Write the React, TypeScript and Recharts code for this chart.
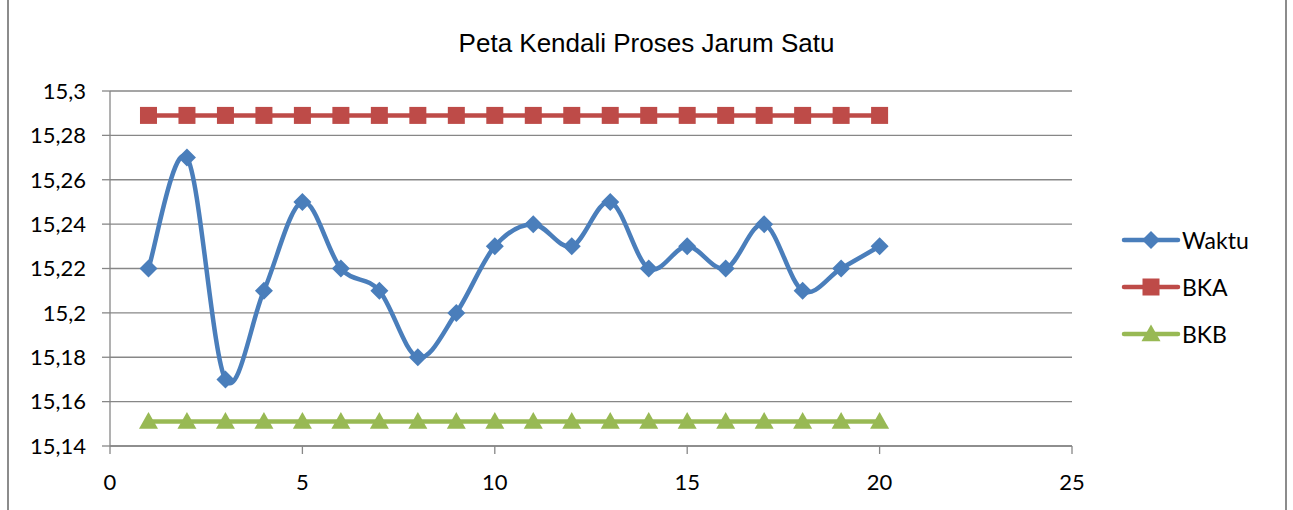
import { LineChart, Line, XAxis, YAxis, CartesianGrid, Legend } from "recharts";

const titleText = "Peta Kendali Proses Jarum Satu";
const sampleNo = [1, 2, 3, 4, 5, 6, 7, 8, 9, 10, 11, 12, 13, 14, 15, 16, 17, 18, 19, 20];
const waktu = [15.22, 15.27, 15.17, 15.21, 15.25, 15.22, 15.21, 15.18, 15.2, 15.23, 15.24, 15.23, 15.25, 15.22, 15.23, 15.22, 15.24, 15.21, 15.22, 15.23];
const bka = 15.289;
const bkb = 15.151;
const xTicks = [0, 5, 10, 15, 20, 25];
const yTicks = [15.14, 15.16, 15.18, 15.2, 15.22, 15.24, 15.26, 15.28, 15.3];

const data = sampleNo.map((n, i) => ({ n, Waktu: waktu[i], BKA: bka, BKB: bkb }));

const BLUE = "#4a7ebb";
const RED = "#be4b48";
const GREEN = "#98b954";
const FONT = "Lato, 'Open Sans', sans-serif";

// smoothed line like the spreadsheet one (catmull-rom style bezier)
function smoothCurve(ctx: any) {
  let pts: [number, number][] = [];
  return {
    areaStart() {},
    areaEnd() {},
    lineStart() { pts = []; },
    point(x: number, y: number) { pts.push([x, y]); },
    lineEnd() {
      if (!pts.length) return;
      ctx.moveTo(pts[0][0], pts[0][1]);
      for (let i = 0; i < pts.length - 1; i++) {
        const p0 = pts[i - 1] || pts[i];
        const p1 = pts[i];
        const p2 = pts[i + 1];
        const p3 = pts[i + 2] || p2;
        const c1x = p1[0] + (p2[0] - p0[0]) / 6;
        const c1y = p1[1] + (p2[1] - p0[1]) / 6;
        const c2x = p2[0] - (p3[0] - p1[0]) / 6;
        const c2y = p2[1] - (p3[1] - p1[1]) / 6;
        ctx.bezierCurveTo(c1x, c1y, c2x, c2y, p2[0], p2[1]);
      }
    },
  };
}

const fmt = (v: number) => String(Number(v.toFixed(2))).replace(".", ",");

// r from recharts is ignored, marker size is fixed per shape
const Diamond = (p: any) => {
  const { cx, cy, fill } = p;
  const s = 9;
  if (cx == null || cy == null) return <g />;
  return <path d={`M${cx},${cy - s}L${cx + s},${cy}L${cx},${cy + s}L${cx - s},${cy}Z`} fill={fill} />;
};
const Square = (p: any) => {
  const { cx, cy, fill } = p;
  const s = 8.5;
  if (cx == null || cy == null) return <g />;
  return <rect x={cx - s} y={cy - s} width={s * 2} height={s * 2} fill={fill} />;
};
const Triangle = (p: any) => {
  const { cx, cy, fill } = p;
  const s = 9.5;
  if (cx == null || cy == null) return <g />;
  return <path d={`M${cx},${cy - s}L${cx + s},${cy + s * 0.75}L${cx - s},${cy + s * 0.75}Z`} fill={fill} />;
};

const legendItems = [
  { name: "Waktu", color: BLUE, Mark: Diamond },
  { name: "BKA", color: RED, Mark: Square },
  { name: "BKB", color: GREEN, Mark: Triangle },
];

const LegendBox = () => (
  <div>
    {legendItems.map((it) => (
      <div key={it.name} style={{ display: "flex", alignItems: "center", height: 47 }}>
        <svg width={60} height={26}>
          <line x1={3} y1={13} x2={57} y2={13} stroke={it.color} strokeWidth={4.5} strokeLinecap="round" />
          <it.Mark cx={30} cy={13} fill={it.color} />
        </svg>
        <span style={{ fontFamily: FONT, fontSize: 23, color: "#000", marginLeft: 1 }}>{it.name}</span>
      </div>
    ))}
  </div>
);

export default function App() {
  return (
    <div style={{ position: "absolute", left: 0, top: 0, width: 1293, height: 510, background: "#fff" }}>
      <div style={{ position: "absolute", left: 7, top: 0, width: 1280, height: 510, borderLeft: "2px solid #8c8c8c", borderRight: "2px solid #8c8c8c", boxSizing: "border-box" }} />
      <div style={{ position: "absolute", left: 0, top: 28, width: 1293, textAlign: "center", fontFamily: "'Liberation Sans', Arial, sans-serif", fontSize: 26, color: "#000" }}>
        {titleText}
      </div>
      <div style={{ position: "absolute", left: 0, top: 0 }}>
        <LineChart width={1293} height={510} data={data} margin={{ top: 91, right: 221, left: 10, bottom: 0 }}>
          <CartesianGrid vertical={false} stroke="#878787" strokeWidth={1.3} />
          <XAxis
            dataKey="n"
            type="number"
            domain={[0, 25]}
            ticks={xTicks}
            interval={0}
            height={64}
            stroke="#878787"
            strokeWidth={1.3}
            tickSize={8}
            tickMargin={20}
            tick={{ fill: "#000", fontSize: 22, fontFamily: FONT }}
          />
          <YAxis
            type="number"
            domain={[15.14, 15.3]}
            ticks={yTicks}
            interval={0}
            width={100}
            stroke="#878787"
            strokeWidth={1.3}
            tickSize={8}
            tickMargin={16}
            tickFormatter={fmt}
            allowDataOverflow
            tick={{ fill: "#000", fontSize: 22, fontFamily: FONT }}
          />
          <Line dataKey="BKA" type="linear" stroke={RED} strokeWidth={4.5} dot={<Square fill={RED} />} isAnimationActive={false} />
          <Line dataKey="BKB" type="linear" stroke={GREEN} strokeWidth={4.5} dot={<Triangle fill={GREEN} />} isAnimationActive={false} />
          <Line dataKey="Waktu" type={smoothCurve as any} stroke={BLUE} strokeWidth={4.5} dot={<Diamond fill={BLUE} />} isAnimationActive={false} />
          <Legend
            layout="horizontal"
            verticalAlign="middle"
            align="center"
            content={<LegendBox />}
            wrapperStyle={{ position: "absolute", left: 1121, top: 216, width: 165 }}
          />
        </LineChart>
      </div>
    </div>
  );
}
